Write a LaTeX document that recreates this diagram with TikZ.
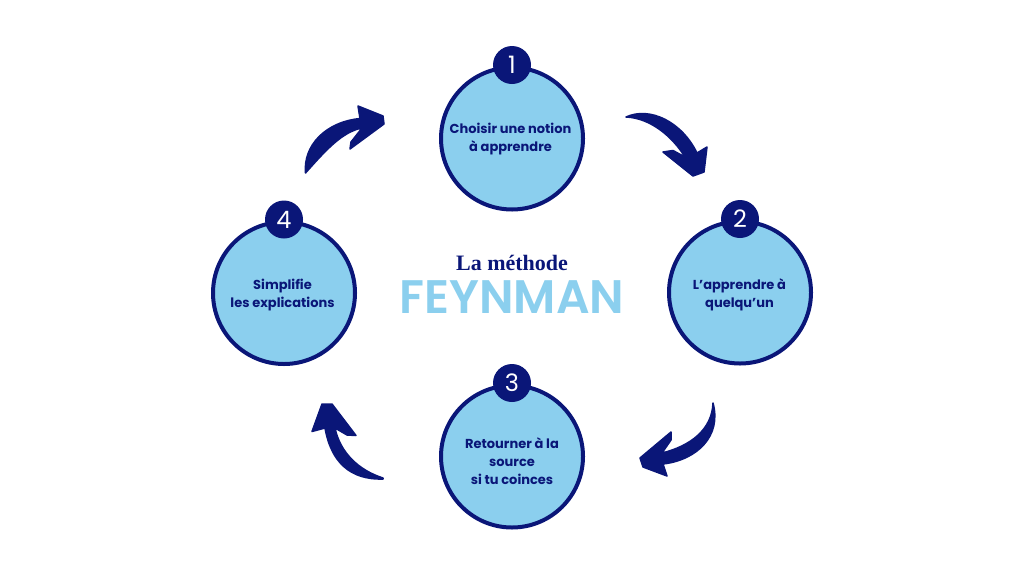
\documentclass[tikz,border=0pt]{standalone}
\usepackage{fontspec}
\setmainfont{Poppins}
\newfontfamily\serifname{Liberation Serif}
\newfontfamily\titlefont{Poppins SemiBold}
\definecolor{navy}{HTML}{0A1678}
\definecolor{sky}{HTML}{8BCFEE}

\begin{document}
\begin{tikzpicture}[
      x=1pt,y=-1pt,
      disc/.style={draw=navy,fill=sky,circle,line width=4pt,minimum size=142pt,inner sep=0pt},
      badge/.style={fill=navy,circle,minimum size=38pt,inner sep=0pt,text=white,font=\fontsize{24}{24}\selectfont},
      caption/.style={text=navy,align=center,font=\fontsize{13}{18}\selectfont\bfseries},
      curl/.style={fill=navy,draw=navy,line width=1.5pt,line join=round}
    ]
    \useasboundingbox (0,0) rectangle (1024,576);
    \foreach \x/\cx/\cy in {1/512/138.5,2/740/292.5,3/512/456.5,4/284/293} {
      \node [disc] (c\x) at (\cx,\cy) {};
      \node [badge] (n\x) at (\cx,\cy-73.5) {\x};
    }
    \node [caption] (t1) at (510.5,139.5) {Choisir une notion\\à apprendre};
    \node [caption] (t2) at (739.5,295) {L’apprendre à\\quelqu’un};
    \node [caption] (t3) at (512,461.5) {Retourner à la\hspace{7pt}\\source\\si tu coinces};
    \node [caption] (t4) at (282.5,295) {Simplifie\\les explications};
    \node [text=navy,font=\serifname\bfseries\fontsize{22}{22}\selectfont] (la) at (512,263) {La méthode};
    \node [text=sky,font=\titlefont\fontsize{47}{47}\selectfont] (fey) at (512,297) {FEYNMAN};
    % top left
    \fill [curl] (305.5,173) .. controls (303,146) and (325,122) .. (360,118.5) -- (358,106)
      -- (383,116) -- (384,124) -- (350,149) -- (351,142) -- (362,128)
      .. controls (342,132) and (326,150) .. (305.5,173) -- cycle;
    % top right
    \fill [curl] (626,117) .. controls (650,106) and (682,122) .. (697,153) -- (707,147)
      -- (704,172) -- (693,176) -- (663,152) -- (673,150.5) -- (685,157)
      .. controls (672,136) and (650,118) .. (626,117) -- cycle;
    % bottom right
    \fill [curl] (713,403) .. controls (722,436) and (697,460) .. (663,464) -- (667,476)
      -- (643,467) -- (640,458) -- (671,432) -- (671,440) -- (662,453)
      .. controls (690,446) and (712,430) .. (713,403) -- cycle;
    % bottom left
    \fill [curl] (383,479) .. controls (350,480) and (331,462) .. (325,428) -- (312,431.5)
      -- (322,404) -- (332,404) -- (356,435.5) -- (347,435) -- (335,428)
      .. controls (340,452) and (358,470) .. (383,478) -- cycle;
  \end{tikzpicture}
\end{document}
